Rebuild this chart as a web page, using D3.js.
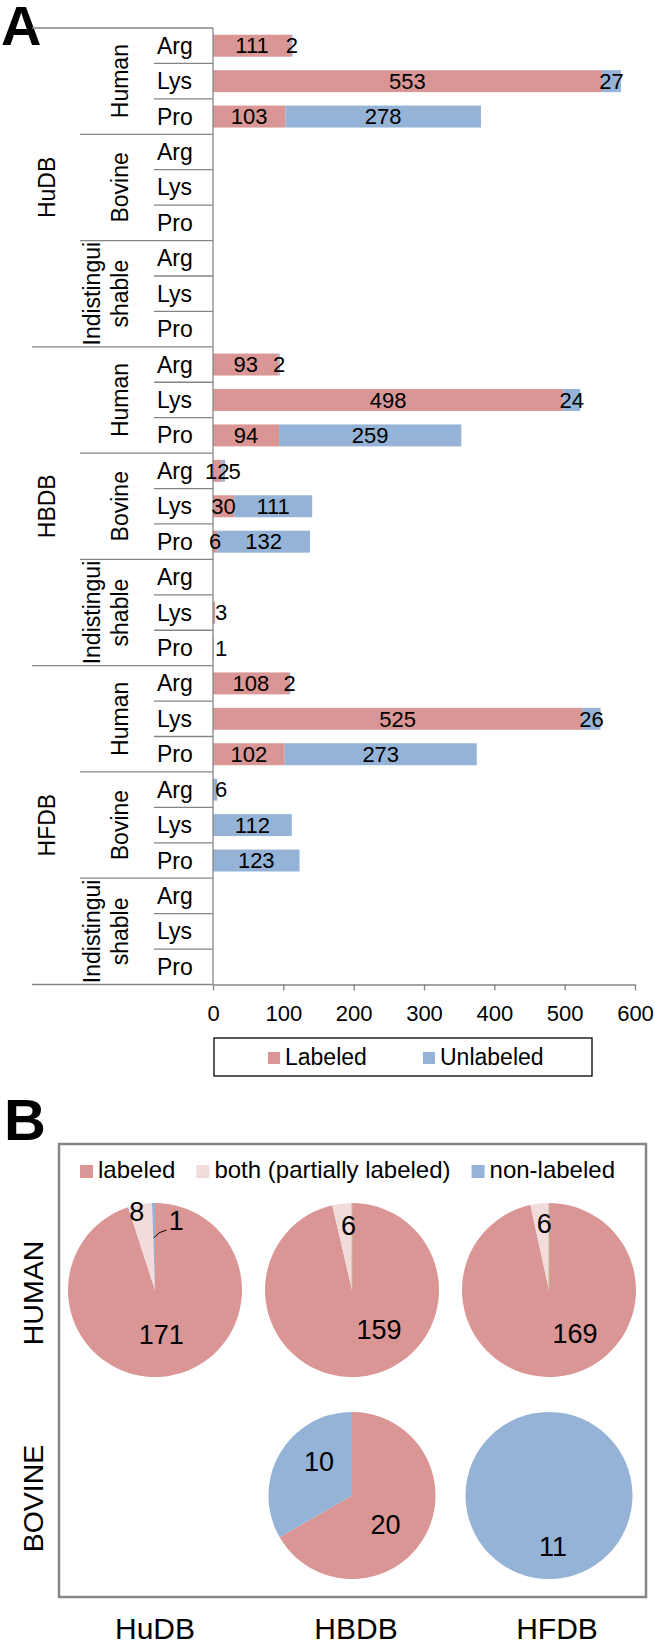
<!DOCTYPE html>
<html><head><meta charset="utf-8">
<script src="https://cdn.jsdelivr.net/npm/d3@7"></script>
<style>
body{margin:0;background:#fff}
svg{display:block}
text{font-family:"Liberation Sans",Arial,Helvetica,sans-serif;fill:#000}
</style>
</head><body>
<svg id="c" width="655" height="1644"></svg>
<script>
// ---------------- DATA ----------------
const databases = ["HuDB", "HBDB", "HFDB"];
const species = ["Human", "Bovine", "Indistinguishable"];
const residues = ["Arg", "Lys", "Pro"];
// rows ordered database -> species -> residue
const labeledCounts   = [111, 553, 103,  0, 0, 0,    0, 0, 0,
                          93, 498,  94, 12, 30, 6,   0, 3, 1,
                         108, 525, 102,  0, 0, 0,    0, 0, 0];
const unlabeledCounts = [  2,  27, 278,  0, 0, 0,    0, 0, 0,
                           2,  24, 259,  5, 111, 132, 0, 0, 0,
                           2,  26, 273,  6, 112, 123, 0, 0, 0];
const barSeries = ["Labeled", "Unlabeled"];
const xTicks = [0, 100, 200, 300, 400, 500, 600];

const pieColumns = ["HuDB", "HBDB", "HFDB"];
const pieRows = ["HUMAN", "BOVINE"];
const pieSeries = ["labeled", "both (partially labeled)", "non-labeled"];
const pieHuman  = [[171, 8, 1], [159, 6, 0], [169, 6, 0]];
const pieBovine = [null, [20, 0, 10], [0, 0, 11]];

// ---------------- STYLE / LAYOUT ----------------
const RED = "#d99694", BLUE = "#95b3d7", PINK = "#f2dcdb", GREY = "#868686";
const barColor = d3.scaleOrdinal().domain(barSeries).range([RED, BLUE]);
const pieColor = d3.scaleOrdinal().domain(pieSeries).range([RED, PINK, BLUE]);
// label placement for pie labels: [angle (deg, clockwise from 12 o'clock), radius fraction]
const pieLabelPlacement = {
  "HUMAN|HuDB": [[172, .52], [347, .93], [17, .84]],
  "HUMAN|HBDB": [[145.5, .55], [357, .74], null],
  "HUMAN|HFDB": [[149, .58], [356, .76], null],
  "BOVINE|HBDB": [[131, .53], null, [316, .57]],
  "BOVINE|HFDB": [null, null, [175.5, .61]]
};
const speciesLines = {"Human": ["Human"], "Bovine": ["Bovine"], "Indistinguishable": ["Indistingui", "shable"]};

const svg = d3.select("#c");

// ================= PANEL A =================
svg.append("text").attr("x", 1).attr("y", 45).attr("font-size", 56).attr("font-weight", "bold").text("A");

const rows = [];
databases.forEach((db, i) => species.forEach((sp, j) => residues.forEach((r, k) => {
  const idx = i * 9 + j * 3 + k;
  rows.push({id: idx, db, sp, res: r, Labeled: labeledCounts[idx], Unlabeled: unlabeledCounts[idx]});
})));

const x = d3.scaleLinear().domain([0, 600]).range([213, 635]);
const y = d3.scaleBand().domain(rows.map(d => d.id)).range([28, 984.5]).paddingInner(0.38).paddingOuter(0.19);
const step = y.step();
const top0 = y.range()[0];
const rowTop = i => top0 + i * step;

const gA = svg.append("g");

// category separators
d3.range(rows.length + 1).forEach(i => {
  const x1 = i % 9 === 0 ? 32 : (i % 3 === 0 ? 80 : 154);
  gA.append("line").attr("x1", x1).attr("x2", x(0)).attr("y1", rowTop(i)).attr("y2", rowTop(i))
    .attr("stroke", GREY).attr("stroke-width", 1.3);
});

// residue labels
gA.selectAll("text.res").data(rows).join("text").attr("class", "res")
  .attr("x", 157).attr("y", d => y(d.id) + y.bandwidth() / 2).attr("dy", "0.35em")
  .attr("font-size", 23).text(d => d.res);

// species labels
databases.forEach((db, i) => species.forEach((sp, j) => {
  const cy = rowTop(i * 9 + j * 3) + 1.5 * step;
  const lines = speciesLines[sp];
  const bases = lines.length === 1 ? [128] : [100, 128];
  lines.forEach((ln, li) => {
    gA.append("text").attr("transform", `translate(${bases[li]},${cy}) rotate(-90)`)
      .attr("text-anchor", "middle").attr("font-size", 23).text(ln);
  });
}));
// database labels
databases.forEach((db, i) => {
  const cy = rowTop(i * 9) + 4.5 * step;
  gA.append("text").attr("transform", `translate(55,${cy}) rotate(-90)`)
    .attr("text-anchor", "middle").attr("font-size", 23).text(db);
});

// stacked bars
const stacked = d3.stack().keys(barSeries)(rows);
gA.selectAll("g.series").data(stacked).join("g").attr("class", "series")
  .attr("fill", s => barColor(s.key))
  .selectAll("rect").data(s => s).join("rect")
  .attr("x", d => x(d[0])).attr("width", d => x(d[1]) - x(d[0]))
  .attr("y", d => y(d.data.id)).attr("height", y.bandwidth());

// vertical axis line
gA.append("line").attr("x1", x(0)).attr("x2", x(0)).attr("y1", top0).attr("y2", rowTop(rows.length))
  .attr("stroke", GREY).attr("stroke-width", 1.3);

// value labels
const labelLayer = gA.append("g");
rows.forEach(r => {
  let prevRight = -Infinity;
  const nonZero = stacked.filter(s => s[r.id][1] - s[r.id][0] > 0).length;
  stacked.forEach(s => {
    const d = s[r.id];
    const v = d[1] - d[0];
    if (v <= 0) return;
    const t = labelLayer.append("text").attr("font-size", 22).attr("text-anchor", "middle")
      .attr("y", y(r.id) + y.bandwidth() / 2).attr("dy", "0.35em").text(v);
    const w = t.node().getComputedTextLength();
    let cx = x((d[0] + d[1]) / 2);
    if (nonZero === 1 && cx - w / 2 < x(0)) cx = x(0) + 2 + w / 2;
    if (cx - w / 2 < prevRight - 1) cx = prevRight - 1 + w / 2;
    t.attr("x", cx);
    prevRight = cx + w / 2;
  });
});

// x axis
const axisY = rowTop(rows.length);
const ax = gA.append("g").attr("transform", `translate(0,${axisY})`)
  .call(d3.axisBottom(x).tickValues(xTicks).tickSize(6).tickSizeOuter(0));
ax.select(".domain").attr("stroke", GREY).attr("stroke-width", 1.3);
ax.selectAll(".tick line").attr("stroke", GREY).attr("stroke-width", 1.3);
ax.selectAll(".tick text").attr("font-size", 22).attr("font-family", null).attr("fill", "#000")
  .attr("y", 36).attr("dy", 0);

// legend
const lg = gA.append("g");
lg.append("rect").attr("x", 214).attr("y", 1038).attr("width", 378).attr("height", 38)
  .attr("fill", "none").attr("stroke", "#000").attr("stroke-width", 1.3);
const legendX = d3.scaleOrdinal().domain(barSeries).range([268, 423]);
barSeries.forEach(s => {
  lg.append("rect").attr("x", legendX(s)).attr("y", 1052).attr("width", 12).attr("height", 12).attr("fill", barColor(s));
  lg.append("text").attr("x", legendX(s) + 17).attr("y", 1065).attr("font-size", 23).text(s);
});

// ================= PANEL B =================
svg.append("text").attr("x", 4).attr("y", 1140).attr("font-size", 58).attr("font-weight", "bold").text("B");
const gB = svg.append("g");
gB.append("rect").attr("x", 59).attr("y", 1144).attr("width", 587).attr("height", 453)
  .attr("fill", "none").attr("stroke", GREY).attr("stroke-width", 2.5);

// legend
let lx = 80;
pieSeries.forEach(s => {
  gB.append("rect").attr("x", lx).attr("y", 1165).attr("width", 13).attr("height", 13).attr("fill", pieColor(s));
  const t = gB.append("text").attr("x", lx + 18).attr("y", 1178).attr("font-size", 24).text(s);
  lx = lx + 18 + t.node().getComputedTextLength() + 21;
});

const colX = d3.scalePoint().domain(pieColumns).range([155, 549]);
const rowY = d3.scalePoint().domain(pieRows).range([1290, 1495.5]);
const radius = d3.scaleOrdinal().domain(pieRows).range([87, 83.5]);
const colLabelX = d3.scalePoint().domain(pieColumns).range([155, 557]);

const pie = d3.pie().sort(null).value(d => d);
const polar = (cx, cy, deg, r) => {
  const a = deg * Math.PI / 180;
  return [cx + r * Math.sin(a), cy - r * Math.cos(a)];
};

pieRows.forEach(rowName => {
  const dataRow = rowName === "HUMAN" ? pieHuman : pieBovine;
  pieColumns.forEach((col, ci) => {
    const vals = dataRow[ci];
    if (!vals) return;
    const cx = colX(col), cy = rowY(rowName), R = radius(rowName);
    const arcs = pie(vals);
    const arc = d3.arc().innerRadius(0).outerRadius(R);
    const g = gB.append("g").attr("transform", `translate(${cx},${cy})`);
    g.selectAll("path").data(arcs.filter(a => a.value > 0)).join("path")
      .attr("d", arc).attr("fill", (a) => pieColor(pieSeries[a.index]));
    // zero-size non-labeled slice drawn as hairline
    arcs.forEach(a => {
      if (a.value === 0 && a.index === 2) {
        const p = polar(0, 0, a.startAngle * 180 / Math.PI, R);
        g.append("line").attr("x1", 0).attr("y1", 0).attr("x2", p[0]).attr("y2", p[1])
          .attr("stroke", "#c2bd8e").attr("stroke-width", 1);
      }
    });
    const place = pieLabelPlacement[rowName + "|" + col];
    arcs.forEach(a => {
      if (a.value <= 0 || !place[a.index]) return;
      const [deg, fr] = place[a.index];
      const [lxp, lyp] = polar(cx, cy, deg, fr * R);
      gB.append("text").attr("x", lxp).attr("y", lyp).attr("dy", "0.35em")
        .attr("text-anchor", "middle").attr("font-size", 27).text(a.value);
      // leader line for a thin outside label
      if (fr > 0.8 && (a.endAngle - a.startAngle) < 0.05) {
        const mid = (a.startAngle + a.endAngle) / 2 * 180 / Math.PI;
        const s0 = polar(cx, cy, mid, 0.6 * R);
        const knee = [s0[0] + 5, s0[1] - 5];
        const end = [lxp - 10, lyp + 10];
        gB.append("polyline").attr("points", [s0, knee, end].map(p => p.join(",")).join(" "))
          .attr("fill", "none").attr("stroke", "#000").attr("stroke-width", 1);
      }
    });
  });
});

// row labels
pieRows.forEach(r => {
  gB.append("text").attr("transform", `translate(43,${rowY(r) + 3}) rotate(-90)`)
    .attr("text-anchor", "middle").attr("font-size", 28.5).text(r);
});
// column labels
pieColumns.forEach(c => {
  gB.append("text").attr("x", colLabelX(c)).attr("y", 1639).attr("text-anchor", "middle")
    .attr("font-size", 30).text(c);
});
</script>
</body></html>
